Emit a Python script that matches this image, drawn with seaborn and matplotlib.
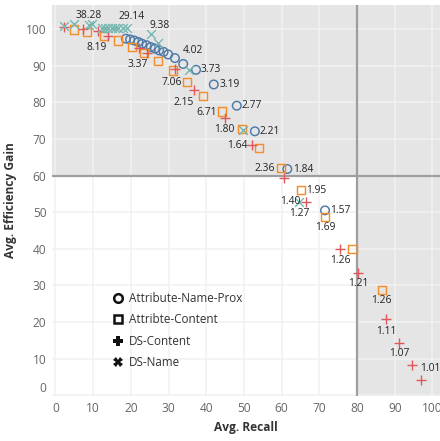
import matplotlib
matplotlib.use("Agg")
import matplotlib.pyplot as plt
import matplotlib.transforms as mtransforms
from matplotlib.lines import Line2D
from matplotlib.patches import Rectangle
import seaborn as sns
import pandas as pd

# ---------------- data ----------------
anp_x = [18.7, 19.8, 20.9, 22.0, 23.0, 24.2, 25.3, 26.4, 27.5, 28.7, 29.9, 31.7, 33.9,
         37.3, 42.0, 48.1, 52.9, 61.5, 71.5]
anp_y = [97.4, 97.2, 96.9, 96.5, 96.0, 95.6, 95.1, 94.7, 94.2, 93.8, 93.1, 92.1, 90.5,
         88.9, 84.9, 79.1, 72.1, 61.8, 50.5]
anp_lab = ["", "", "", "", "", "", "", "", "", "", "", "", "4.02",
           "3.73", "3.19", "2.77", "2.21", "1.84", "1.57"]

ac_x = [4.9, 8.5, 12.9, 16.7, 20.2, 23.6, 27.3, 31.2, 34.8, 39.2, 44.2, 49.4, 54.1,
        59.8, 65.1, 71.5, 78.8, 86.5]
ac_y = [99.9, 99.2, 98.1, 96.9, 95.1, 93.5, 91.3, 88.7, 85.5, 81.7, 77.5, 72.7, 67.5,
        62.0, 56.0, 48.8, 39.9, 28.7]
ac_lab = ["", "", "8.19", "", "", "", "", "", "7.06", "", "6.71", "1.80", "",
          "2.36", "1.95", "1.69", "", "1.26"]

dsc_x = [2.4, 7.3, 11.4, 14.0, 22.2, 24.2, 31.7, 36.8, 45.0, 52.2, 60.6, 66.4, 75.6,
         80.3, 87.7, 91.2, 94.7, 96.9]
dsc_y = [100.6, 100.0, 99.6, 98.1, 94.8, 93.5, 89.2, 83.3, 75.6, 68.4, 59.3, 52.9, 39.9,
         33.5, 20.7, 14.3, 8.2, 4.2]
dsc_lab = ["", "", "", "", "", "3.37", "", "2.15", "", "1.64", "", "1.40", "1.26",
           "1.21", "1.11", "1.07", "1.01", ""]

dsn_x = [2.3, 4.9, 8.9, 9.7, 12.3, 13.1, 14.0, 14.9, 15.8, 16.7, 18.0, 18.9, 25.3,
         27.2, 35.4, 49.8, 64.7]
dsn_y = [101.0, 101.3, 101.1, 101.4, 100.4, 100.4, 100.4, 100.4, 100.4, 100.4, 100.4,
         100.2, 98.6, 96.2, 88.9, 72.5, 52.7]
dsn_lab = ["", "38.28", "", "", "", "", "", "", "", "", "", "29.14", "9.38",
           "", "", "", "1.27"]

series_names = ["Attribute-Name-Prox", "Attribte-Content", "DS-Content", "DS-Name"]
x_ticks = [0, 10, 20, 30, 40, 50, 60, 70, 80, 90, 100]
y_ticks = [0, 10, 20, 30, 40, 50, 60, 70, 80, 90, 100]
x_title = "Avg. Recall"
y_title = "Avg. Efficiency Gain"
x_threshold = 80
y_threshold = 60

# ---------------- styles ----------------
sns.set_theme(style="white")
plt.rcParams["font.family"] = ["Open Sans", "DejaVu Sans"]

colors = ["#4e79a7", "#f28e2b", "#e15759", "#76b7b2"]
markers = ["o", "s", "+", "x"]
sizes = [38, 34, 44, 40]

# label offsets in pixels (dx right, dy up) keyed by (series index, label)
px_off = {
    (0, "4.02"): (10, 13), (0, "3.73"): (15, 0), (0, "3.19"): (15.5, 0),
    (0, "2.77"): (15, 0), (0, "2.21"): (15.3, 0), (0, "1.84"): (16, 0),
    (0, "1.57"): (15.5, 0),
    (1, "8.19"): (-7, -11), (1, "7.06"): (-15, 0), (1, "6.71"): (-15, -1),
    (1, "1.80"): (-17.7, 0), (1, "2.36"): (-15.7, 0), (1, "1.95"): (15.7, 0),
    (1, "1.69"): (0, -11), (1, "1.26"): (0, -10.3),
    (2, "3.37"): (-9, -12), (2, "2.15"): (-10, -12), (2, "1.64"): (-15, -1),
    (2, "1.40"): (-15, 0), (2, "1.26"): (0, -11), (2, "1.21"): (0, -11),
    (2, "1.11"): (0, -11.7), (2, "1.07"): (0, -10.7), (2, "1.01"): (18, -3.6),
    (3, "38.28"): (15, 9), (3, "29.14"): (5, 12), (3, "9.38"): (9, 9),
    (3, "1.27"): (0, -11),
}

W, H = 440, 441
fig = plt.figure(figsize=(W / 100, H / 100), dpi=100)
ax = fig.add_axes([52 / W, (H - 396) / H, 388 / W, 391 / H])

gray_bg = "#e5e5e5"
ax.set_facecolor(gray_bg)
xmin, xmax = -0.9, 102.0
ymin, ymax = -0.2, 106.6
ax.set_xlim(xmin, xmax)
ax.set_ylim(ymin, ymax)

# white lower-left quadrant
ax.add_patch(Rectangle((xmin, ymin), x_threshold - xmin, y_threshold - ymin,
                       facecolor="white", edgecolor="none", zorder=0.2))
ax.set_axisbelow(True)
ax.grid(True, color="#f1f1f1", linewidth=1.1, zorder=0.5)
ax.axvline(x_threshold, color="#9e9e9e", linewidth=1.6, zorder=1)
ax.axhline(y_threshold, color="#9e9e9e", linewidth=1.6, zorder=1)

all_x = [anp_x, ac_x, dsc_x, dsn_x]
all_y = [anp_y, ac_y, dsc_y, dsn_y]
all_lab = [anp_lab, ac_lab, dsc_lab, dsn_lab]

for i in range(4):
    df = pd.DataFrame({"x": all_x[i], "y": all_y[i]})
    if markers[i] in ("o", "s"):
        sns.scatterplot(data=df, x="x", y="y", ax=ax, marker=markers[i], s=sizes[i],
                        facecolor="none", edgecolor=colors[i], linewidth=1.05,
                        zorder=3, legend=False)
    else:
        sns.scatterplot(data=df, x="x", y="y", ax=ax, marker=markers[i], s=sizes[i],
                        color=colors[i], linewidth=1.0, zorder=3, legend=False)
    for xv, yv, lab in zip(all_x[i], all_y[i], all_lab[i]):
        if lab:
            dx, dy = px_off[(i, lab)]
            ax.annotate(lab, (xv, yv), xytext=(dx * 0.72, dy * 0.72),
                        textcoords="offset points", ha="center", va="center",
                        fontsize=7.4, color="#222222", zorder=4,
                        annotation_clip=False)

ax.set_xticks(x_ticks)
ax.set_yticks(y_ticks)
ax.tick_params(axis="both", length=0, labelsize=8.6, labelcolor="#666666", pad=4)
for s in ax.spines.values():
    s.set_visible(False)

# the lowest y tick label sits slightly raised, as in the reference
fig.canvas.draw()
ylabels = ax.get_yticklabels()
ylabels[0].set_transform(ylabels[0].get_transform() +
                         mtransforms.ScaledTranslation(0, 6 / 72, fig.dpi_scale_trans))

ax.set_xlabel(x_title, fontsize=8.6, fontweight="bold", color="#333333", labelpad=5)
ax.set_ylabel(y_title, fontsize=8.6, fontweight="bold", color="#333333", labelpad=6)

handles = [
    Line2D([], [], linestyle="none", marker="o", markersize=6.2, markerfacecolor="none",
           markeredgecolor="#111111", markeredgewidth=1.8),
    Line2D([], [], linestyle="none", marker="s", markersize=5.8, markerfacecolor="none",
           markeredgecolor="#111111", markeredgewidth=1.8),
    Line2D([], [], linestyle="none", marker="P", markersize=7, color="#111111",
           markeredgewidth=0),
    Line2D([], [], linestyle="none", marker="X", markersize=7, color="#111111",
           markeredgewidth=0),
]
leg = ax.legend(handles, series_names, loc="upper left",
                bbox_to_anchor=((113 - 52) / 388, (396 - 292) / 391),
                frameon=False, fontsize=8.4, handlelength=0.9, handletextpad=0.45,
                labelspacing=0.72, borderpad=0, borderaxespad=0)
for t in leg.get_texts():
    t.set_color("#333333")

fig.savefig("out.png", dpi=100)
